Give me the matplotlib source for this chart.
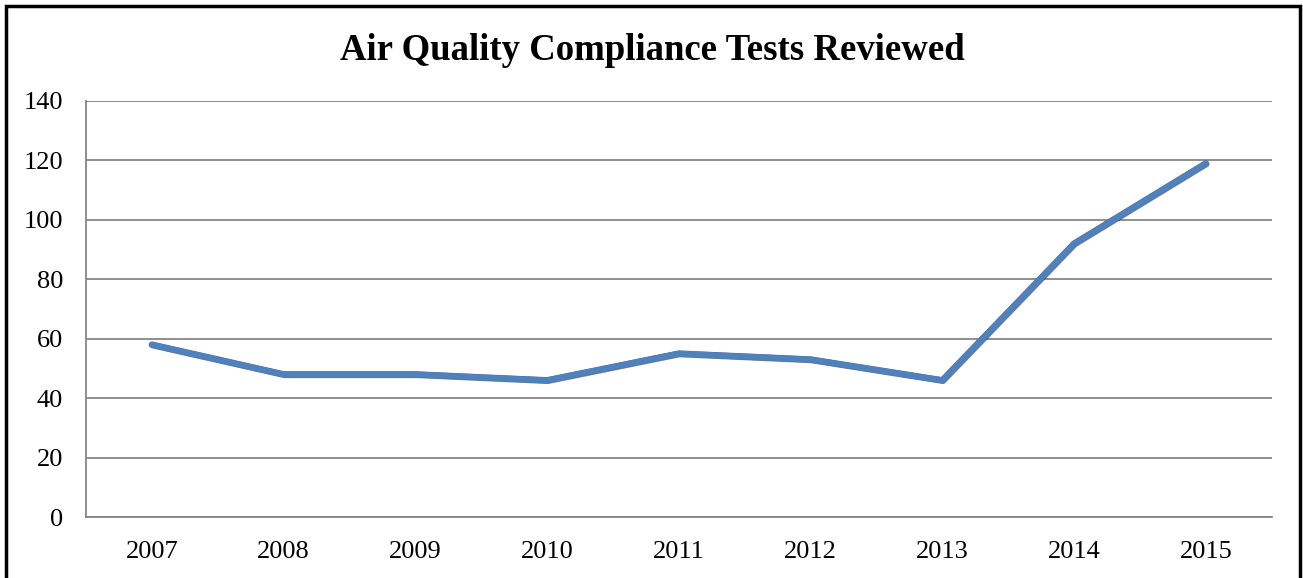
import matplotlib
matplotlib.use("Agg")
import matplotlib.pyplot as plt
import matplotlib.patheffects as pe
from matplotlib.patches import Rectangle

years = ["2007", "2008", "2009", "2010", "2011", "2012", "2013", "2014", "2015"]
tests = [58, 48, 48, 46, 55, 53, 46, 92, 119]
y_ticks = [0, 20, 40, 60, 80, 100, 120, 140]

plt.rcParams["font.family"] = ["Liberation Serif", "DejaVu Serif"]

fig = plt.figure(figsize=(13.03, 5.78), dpi=100)
ax = fig.add_axes([0.066, 0.1055, 0.910, 0.7198])

x = range(len(years))
ax.plot(x, tests, color="#4F81BD", linewidth=4.2, solid_capstyle="round",
        solid_joinstyle="round", zorder=3,
        path_effects=[pe.SimpleLineShadow(offset=(0.6, -0.6), shadow_color="#3a3a3a", alpha=0.6),
                      pe.Stroke(linewidth=4.6, foreground="#4a6f9c"),
                      pe.Normal()])

ax.set_xlim(-0.5, len(years) - 0.5)
ax.set_ylim(0, 140)
ax.set_yticks(y_ticks)
ax.set_xticks(list(x))
ax.set_xticklabels(years)
ax.tick_params(axis="both", length=0, labelsize=19, colors="black")
ax.tick_params(axis="y", pad=16.5)
ax.tick_params(axis="x", pad=17)

ax.grid(True, axis="y", color="#868686", linewidth=1.3, zorder=0)
for s in ["top", "right"]:
    ax.spines[s].set_visible(False)
for s in ["left", "bottom"]:
    ax.spines[s].set_color("#868686")
    ax.spines[s].set_linewidth(1.3)

fig.text(0.501, 0.912, "Air Quality Compliance Tests Reviewed", ha="center", va="center",
         fontsize=26.5, fontweight="bold")

# outer chart border
fig.patches.append(Rectangle((0.0045, -0.01), 0.9935, 1.0, transform=fig.transFigure,
                             fill=False, edgecolor="black", linewidth=2.5))

fig.savefig("out.png", dpi=100)
